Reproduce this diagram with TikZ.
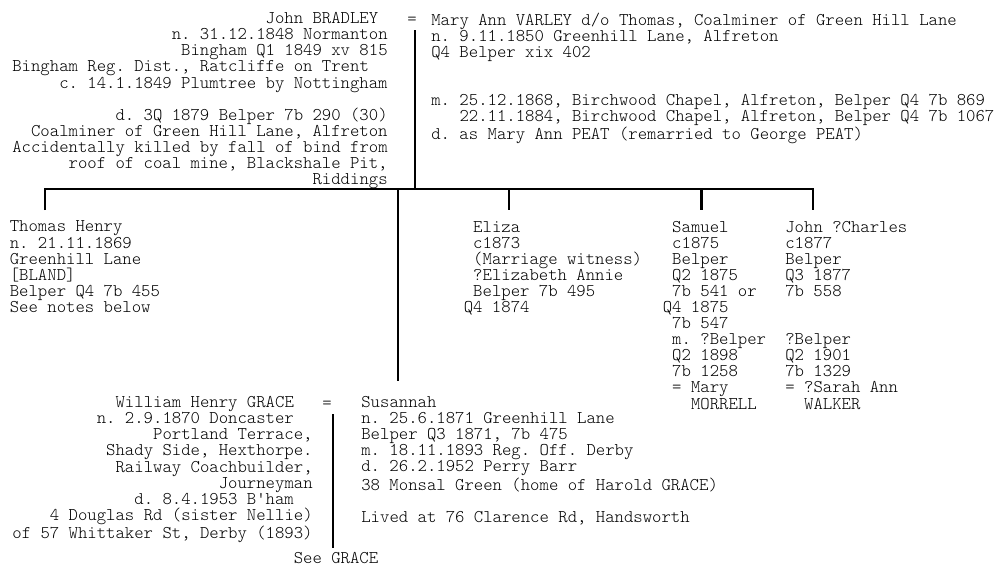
\documentclass[tikz,border=0pt]{standalone}
\usepackage{tikz}
\usetikzlibrary{positioning,calc}
\newcommand{\pd}{\phantom{0}}

\begin{document}
\frenchspacing
\begin{tikzpicture}[
  txt/.style={font=\ttfamily\fontseries{l}\fontsize{10.17pt}{9.15pt}\selectfont,inner sep=0pt},
  lft/.style={txt,align=left,anchor=north west,execute at begin node={\rule{0pt}{0.8em}}},
  rgt/.style={txt,align=right,anchor=north east,execute at begin node={\rule{0pt}{0.8em}}},
  ln/.style={line width=1.2pt},
]
\useasboundingbox (0,0) rectangle (20.06,11.36);

% ---------- parents ----------
\node[rgt] (john) at (7.76,11.116) {John BRADLEY\pd\\
  n. 31.12.1848 Normanton\\
  Bingham Q1 1849 xv 815\\
  Bingham Reg. Dist., Ratcliffe on Trent\pd\pd\\
  c. 14.1.1849 Plumtree by Nottingham\\
  \pd\\
  d. 3Q 1879 Belper 7b 290 (30)\\
  Coalminer of Green Hill Lane, Alfreton\\
  Accidentally killed by fall of bind from\\
  roof of coal mine, Blackshale Pit,\\
  Riddings};
\node[txt] (eqa) at (8.24,10.95) {=};
\node[lft] (mary) at (8.62,11.116) {Mary Ann VARLEY d/o Thomas, Coalminer of Green Hill Lane\\
  n. 9.11.1850 Greenhill Lane, Alfreton\\
  Q4 Belper xix 402\\
  \pd\\
  \pd\\
  m. 25.12.1868, Birchwood Chapel, Alfreton, Belper Q4 7b 869\\
  \pd\pd\pd 22.11.1884, Birchwood Chapel, Alfreton, Belper Q4 7b 1067\\
  d. as Mary Ann PEAT (remarried to George PEAT)};

\coordinate (ma) at (8.30,10.76);
\coordinate (fam) at (8.30,7.58);
\draw[ln] (ma) -- (fam);

% ---------- children ----------
\foreach \n/\x in {thomas/0.9,eliza/10.18,samuel/14.03,johnc/16.26} {
  \coordinate (\n-top) at (\x,7.58);
  \coordinate (\n-end) at (\x,7.16);
}
\draw[ln] (thomas-end) -- (thomas-top) -- (johnc-top) -- (johnc-end);
\draw[ln] (eliza-top) -- (eliza-end);
\draw[ln] (samuel-top) -- (samuel-end);

\node[lft] (thomas) at (0.19,6.946) {Thomas Henry\\
  n. 21.11.1869\\
  Greenhill Lane\\
  {[BLAND]}\\
  Belper Q4 7b 455\\
  See notes below};
\node[lft] (eliza) at (9.27,6.946) {\pd Eliza\\
  \pd c1873\\
  \pd (Marriage witness)\\
  \pd ?Elizabeth Annie\\
  \pd Belper 7b 495\\
  Q4 1874};
\node[lft] (samuel) at (13.25,6.946) {\pd Samuel\\
  \pd c1875\\
  \pd Belper\\
  \pd Q2 1875\\
  \pd 7b 541 or\\
  Q4 1875\\
  \pd 7b 547\\
  \pd m. ?Belper\\
  \pd Q2 1898\\
  \pd 7b 1258\\
  \pd = Mary\\
  \pd\pd\pd MORRELL};
\node[lft] (johnc) at (15.70,6.946) {John ?Charles\\
  c1877\\
  Belper\\
  Q3 1877\\
  7b 558\\
  \pd\\
  \pd\\
  ?Belper\\
  Q2 1901\\
  7b 1329\\
  = ?Sarah Ann\\
  \pd\pd WALKER};

% ---------- Susannah and William ----------
\coordinate (wtop) at (7.96,7.58);
\coordinate (wend) at (7.96,3.74);
\draw[ln] (wtop) -- (wend);

\node[rgt] (william) at (6.26,3.436) {William Henry GRACE\pd\pd\\
  n. 2.9.1870 Doncaster\pd\pd\\
  Portland Terrace,\\
  Shady Side, Hexthorpe.\\
  Railway Coachbuilder,\\
  Journeyman\\
  d. 8.4.1953 B\textquotesingle ham\pd\pd\\
  4 Douglas Rd (sister Nellie)\\
  of 57 Whittaker St, Derby (1893)};
\node[txt] (eqb) at (6.54,3.27) {=};
\node[lft] (susannah) at (7.22,3.436) {Susannah\\
  n. 25.6.1871 Greenhill Lane\\
  Belper Q3 1871, 7b 475\\
  m. 18.11.1893 Reg. Off. Derby\\
  d. 26.2.1952 Perry Barr\\
  38 Monsal Green (home of Harold GRACE)\\
  \pd\\
  Lived at 76 Clarence Rd, Handsworth};

\coordinate (mb) at (6.66,3.08);
\coordinate (mbend) at (6.66,0.40);
\draw[ln] (mb) -- (mbend);
\node[txt] (see) at (6.72,0.19) {See GRACE};
\end{tikzpicture}
\end{document}
